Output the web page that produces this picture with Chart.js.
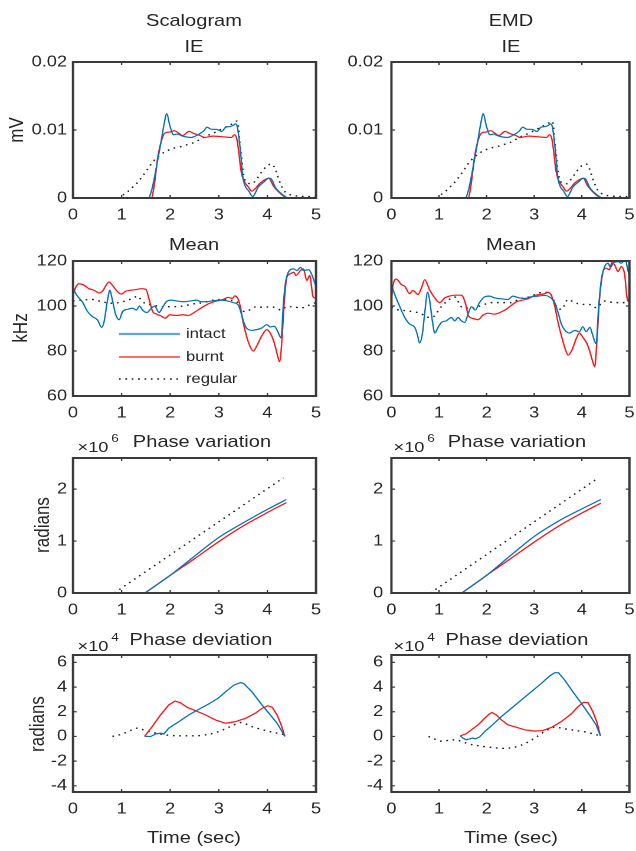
<!DOCTYPE html>
<html>
<head>
<meta charset="utf-8">
<script src="https://cdn.jsdelivr.net/npm/chart.js@4.4.1/dist/chart.umd.min.js"></script>
<style>
body { margin: 0; background: #fff; overflow: hidden; }
#fig { position: relative; height: 851px; transform-origin: 0 0; font-family: "Liberation Sans", Arial, sans-serif; color: #262626; }
#fig canvas { position: absolute; }
.txt { position: absolute; white-space: nowrap; line-height: 1; }
</style>
</head>
<body>
<div id="fig"></div>
<script>
// tick values / labels
const timeTicks = [0, 1, 2, 3, 4, 5];
const ieTicks = [0, 0.01, 0.02];
const ieLabels = ['0', '0.01', '0.02'];
const meanTicks = [60, 80, 100, 120];
const meanLabels = ['60', '80', '100', '120'];
const phvTicks = [0, 1, 2];
const phvLabels = ['0', '1', '2'];
const phdTicks = [-4, -2, 0, 2, 4, 6];
const phdLabels = ['-4', '-2', '0', '2', '4', '6'];

// IE (mV) - same in both columns
const ieIntactT = [0, 1.55, 1.62, 1.71, 1.81, 1.87, 1.93, 1.99, 2.07, 2.14, 2.26, 2.43, 2.57, 2.68, 2.76, 2.85, 2.95, 3.06, 3.14, 3.23, 3.30, 3.34, 3.38, 3.42, 3.46, 3.49, 3.54, 3.61, 3.70, 3.74, 3.81, 3.92, 4.03, 4.09, 4.16, 4.26, 4.37, 4.43, 5];
const ieIntact = [0, 0, 0.0012, 0.0043, 0.0082, 0.0107, 0.0124, 0.0107, 0.0093, 0.0094, 0.0091, 0.0089, 0.0093, 0.0098, 0.0104, 0.0101, 0.0101, 0.0098, 0.0104, 0.0105, 0.0107, 0.0109, 0.0105, 0.0085, 0.0058, 0.0033, 0.0018, 0.0011, 0.0002, 0.0006, 0.0016, 0.0023, 0.0029, 0.0027, 0.0016, 0.0008, 0.0002, 0, 0];
const ieBurntT = [0, 1.61, 1.68, 1.74, 1.81, 1.90, 1.99, 2.09, 2.16, 2.26, 2.39, 2.48, 2.61, 2.71, 2.88, 3.09, 3.26, 3.32, 3.37, 3.41, 3.45, 3.50, 3.61, 3.68, 3.74, 3.85, 3.95, 4.03, 4.12, 4.23, 4.33, 4.43, 5];
const ieBurnt = [0, 0, 0.0023, 0.0058, 0.0082, 0.0096, 0.0097, 0.0099, 0.0096, 0.0092, 0.0098, 0.0095, 0.0092, 0.0089, 0.0091, 0.0090, 0.0089, 0.0093, 0.0087, 0.0068, 0.0043, 0.0028, 0.0016, 0.0010, 0.0013, 0.0022, 0.0027, 0.0029, 0.0018, 0.0009, 0.0003, 0, 0];
const ieRegularT = [0, 0.92, 1.02, 1.12, 1.23, 1.33, 1.43, 1.54, 1.64, 1.74, 1.85, 1.95, 2.06, 2.19, 2.33, 2.47, 2.61, 2.74, 2.88, 3.02, 3.16, 3.30, 3.37, 3.40, 3.43, 3.47, 3.50, 3.57, 3.68, 3.78, 3.88, 3.99, 4.09, 4.16, 4.23, 4.33, 4.43, 4.60, 5];
const ieRegular = [0, 0, 0.0004, 0.0009, 0.0016, 0.0023, 0.0032, 0.0043, 0.0053, 0.0060, 0.0066, 0.0070, 0.0073, 0.0075, 0.0078, 0.0081, 0.0086, 0.0091, 0.0095, 0.0100, 0.0105, 0.0110, 0.0113, 0.0107, 0.0082, 0.0058, 0.0038, 0.0023, 0.0021, 0.0028, 0.0038, 0.0047, 0.0050, 0.0043, 0.0028, 0.0012, 0.0006, 0.0003, 0.0002];

// Mean (kHz) - scalogram
const meanIntactLT = [0, 0.09, 0.19, 0.30, 0.40, 0.50, 0.59, 0.64, 0.71, 0.76, 0.81, 0.88, 0.95, 1.02, 1.12, 1.23, 1.30, 1.37, 1.43, 1.52, 1.61, 1.68, 1.77, 1.85, 1.92, 2.02, 2.12, 2.26, 2.40, 2.54, 2.64, 2.74, 2.88, 3.02, 3.16, 3.30, 3.40, 3.47, 3.52, 3.57, 3.68, 3.78, 3.88, 3.99, 4.06, 4.14, 4.21, 4.28, 4.33, 4.37, 4.43, 4.54, 4.61, 4.68, 4.74, 4.85, 4.92, 5];
const meanIntactL = [107.7, 104.4, 101.9, 97.5, 95.3, 93.9, 90.5, 93.1, 102.6, 107, 102.6, 96.1, 93.9, 97.5, 98.5, 99, 98.2, 100, 98.2, 97.1, 99, 100, 97.1, 99.7, 101.9, 102.6, 102.3, 101.9, 102.2, 102.6, 101.9, 101.9, 102.3, 102.6, 102.3, 101.5, 100.4, 96.1, 92.4, 90.2, 89.2, 89.5, 90.2, 91.7, 90.7, 91, 88.8, 85.8, 101.2, 109.9, 115, 116.5, 115.8, 117.2, 115.8, 116.1, 113.6, 108.5];
const meanBurntLT = [0, 0.06, 0.12, 0.23, 0.33, 0.43, 0.54, 0.61, 0.68, 0.74, 0.81, 0.92, 0.99, 1.09, 1.19, 1.30, 1.40, 1.50, 1.57, 1.64, 1.71, 1.81, 1.90, 1.99, 2.12, 2.26, 2.37, 2.47, 2.57, 2.68, 2.81, 2.95, 3.09, 3.19, 3.28, 3.33, 3.40, 3.45, 3.49, 3.57, 3.64, 3.71, 3.78, 3.88, 3.99, 4.09, 4.16, 4.22, 4.25, 4.30, 4.34, 4.40, 4.47, 4.54, 4.59, 4.68, 4.74, 4.81, 4.87, 4.94, 5];
const meanBurntL = [104.8, 108.5, 109.9, 109.2, 107.7, 107, 105.8, 106.7, 109.2, 110.7, 109.2, 106.3, 105.3, 106.6, 107, 107.3, 107.7, 107.4, 102.6, 97.5, 96.5, 95.6, 94.6, 96.1, 95.8, 96.1, 95.8, 96.8, 98.2, 99.7, 101.2, 102.2, 102.9, 103.8, 103.4, 104.5, 102.9, 99, 93.9, 86.6, 82.2, 80, 82.2, 86.6, 89.5, 86.6, 82.2, 77, 75.2, 85.1, 99.7, 112.8, 114.3, 115, 113.6, 115.8, 116.5, 111.4, 113.6, 104.1, 103.4];
const meanRegularLT = [0, 0.19, 0.40, 0.61, 0.81, 1.02, 1.23, 1.33, 1.43, 1.64, 1.85, 2.06, 2.26, 2.47, 2.68, 2.88, 3.09, 3.23, 3.37, 3.47, 3.57, 3.68, 3.78, 3.92, 4.06, 4.19, 4.28, 4.40, 4.54, 4.68, 4.81, 5];
const meanRegularL = [102.3, 102.6, 102.9, 101.8, 101.2, 101.9, 103.4, 104.4, 101.9, 100.4, 99.7, 99.7, 100, 100.9, 101.5, 102.6, 102.9, 102.6, 101.9, 98.2, 97.5, 99, 99.7, 99.4, 99.7, 99, 98.2, 99.7, 99.7, 99, 100, 101.5];

// Mean (kHz) - EMD
const meanIntactRT = [0, 0.07, 0.17, 0.28, 0.38, 0.49, 0.55, 0.59, 0.65, 0.70, 0.76, 0.80, 0.86, 0.91, 0.98, 1.05, 1.15, 1.26, 1.33, 1.40, 1.47, 1.54, 1.61, 1.68, 1.76, 1.85, 1.96, 2.06, 2.17, 2.31, 2.45, 2.55, 2.69, 2.80, 2.94, 3.08, 3.22, 3.36, 3.43, 3.50, 3.57, 3.65, 3.74, 3.85, 3.95, 4.02, 4.09, 4.17, 4.23, 4.30, 4.35, 4.41, 4.48, 4.55, 4.60, 4.67, 4.76, 4.83, 4.92, 4.95, 5];
const meanIntactR = [109.5, 105.1, 100, 94.9, 92, 90.5, 86.9, 83.6, 87.6, 97.1, 106.1, 102.9, 93.4, 88, 90.5, 92.7, 93.4, 94.9, 93.4, 94.9, 93.4, 92.7, 96.4, 99.7, 98.2, 101.5, 104.1, 104.4, 103.6, 103.2, 102.9, 104.4, 103.6, 103.4, 104.1, 104.4, 104.7, 103.4, 101.5, 97.1, 92, 89.1, 88, 89.1, 88.6, 90.8, 88.6, 90.5, 86.9, 83.2, 98.5, 111.7, 117.5, 119, 117.2, 119.3, 119.7, 119, 121, 117.5, 113.1];
const meanBurntRT = [0, 0.03, 0.10, 0.21, 0.28, 0.38, 0.45, 0.56, 0.63, 0.70, 0.80, 0.91, 1.01, 1.12, 1.22, 1.33, 1.47, 1.55, 1.62, 1.71, 1.82, 1.92, 2.03, 2.17, 2.31, 2.41, 2.52, 2.62, 2.73, 2.87, 3.01, 3.11, 3.22, 3.29, 3.36, 3.43, 3.50, 3.58, 3.65, 3.71, 3.79, 3.88, 3.95, 4.02, 4.11, 4.17, 4.23, 4.27, 4.32, 4.37, 4.44, 4.51, 4.58, 4.63, 4.69, 4.76, 4.83, 4.90, 4.95, 5];
const meanBurntR = [102.9, 108.8, 112, 109.5, 108.8, 105.5, 106.9, 105.1, 108, 111.7, 107.3, 103.6, 101.5, 103.6, 104.4, 104.8, 104.8, 101.5, 95.6, 94.5, 93.9, 95.9, 96.8, 96.4, 97.4, 98.5, 100.3, 101.8, 102.5, 103.2, 104.7, 105.1, 105.5, 106.1, 104.7, 100, 92.7, 86.1, 81, 78.1, 80.3, 85.4, 88, 86.1, 83.2, 79.6, 75.2, 73, 85.4, 102.9, 114.6, 116.8, 116.1, 119.3, 118.2, 115.3, 117.5, 113.9, 103.6, 101.5];
const meanRegularRT = [0, 0.10, 0.35, 0.60, 0.78, 0.90, 1.00, 1.19, 1.33, 1.48, 1.69, 1.90, 2.10, 2.30, 2.50, 2.70, 2.90, 3.10, 3.20, 3.35, 3.46, 3.57, 3.71, 3.85, 4.00, 4.15, 4.30, 4.48, 4.69, 4.90, 5];
const meanRegularR = [99.5, 98.5, 97.8, 96.8, 95, 95.5, 98.5, 102.5, 104, 99.5, 99, 100.3, 101.5, 101.5, 101.5, 103.2, 104.1, 105.8, 106.1, 105.1, 100, 98.5, 102.9, 101.5, 100.7, 100.7, 99.3, 102.2, 101.5, 101.5, 102.2];

// Phase variation (x10^6 radians)
const phvIntactLT = [1.48, 2.0, 2.5, 3.0, 3.5, 4.0, 4.39];
const phvIntactL = [0, 0.34, 0.71, 1.07, 1.35, 1.61, 1.80];
const phvBurntLT = [1.48, 2.0, 2.5, 3.0, 3.5, 4.0, 4.39];
const phvBurntL = [0, 0.34, 0.66, 0.99, 1.29, 1.55, 1.74];
const phvRegularLT = [0.85, 4.33];
const phvRegularL = [0, 2.22];
const phvIntactRT = [1.48, 2.0, 2.5, 3.0, 3.5, 4.0, 4.40];
const phvIntactR = [0, 0.34, 0.72, 1.09, 1.38, 1.62, 1.80];
const phvBurntRT = [1.48, 2.0, 2.5, 3.0, 3.5, 4.0, 4.40];
const phvBurntR = [0, 0.34, 0.66, 0.98, 1.28, 1.54, 1.73];
const phvRegularRT = [0.82, 4.35];
const phvRegularR = [0, 2.22];

// Phase deviation (x10^4 radians)
const phdIntactLT = [1.48, 1.6, 1.7, 1.8, 1.87, 1.97, 2.18, 2.38, 2.59, 2.79, 2.98, 3.14, 3.31, 3.45, 3.51, 3.68, 3.89, 4.06, 4.2, 4.3, 4.36];
const phdIntactL = [0, 0, 0.2, 0.27, 0.2, 0.67, 1.2, 1.74, 2.2, 2.63, 3.08, 3.62, 4.16, 4.37, 4.29, 3.62, 2.55, 1.74, 1.07, 0.4, 0];
const phdBurntLT = [1.47, 1.63, 1.8, 1.97, 2.1, 2.21, 2.35, 2.52, 2.73, 2.93, 3.14, 3.34, 3.55, 3.75, 3.89, 4.01, 4.1, 4.2, 4.29, 4.36];
const phdBurntL = [0, 0.8, 1.74, 2.55, 2.87, 2.73, 2.36, 2.09, 1.74, 1.34, 1.07, 1.2, 1.47, 1.88, 2.28, 2.49, 2.36, 1.74, 0.86, 0];
const phdRegularLT = [0.81, 1.01, 1.18, 1.32, 1.49, 1.7, 1.9, 2.18, 2.45, 2.73, 3.0, 3.27, 3.45, 3.68, 3.96, 4.36];
const phdRegularL = [0, 0.2, 0.48, 0.67, 0.48, 0.27, 0.13, 0.05, 0.05, 0.13, 0.4, 0.86, 1.13, 0.8, 0.48, 0.13];
const phdIntactRT = [1.45, 1.5, 1.57, 1.64, 1.71, 1.76, 1.85, 1.96, 2.1, 2.31, 2.52, 2.73, 2.94, 3.15, 3.32, 3.43, 3.51, 3.64, 3.81, 3.99, 4.16, 4.3, 4.39];
const phdIntactR = [0.05, -0.13, -0.27, -0.2, -0.13, -0.2, -0.05, 0.4, 0.86, 1.61, 2.28, 2.96, 3.63, 4.3, 4.89, 5.16, 5.16, 4.57, 3.63, 2.69, 1.75, 0.94, 0.05];
const phdBurntRT = [1.45, 1.57, 1.68, 1.82, 1.96, 2.06, 2.11, 2.2, 2.31, 2.45, 2.62, 2.8, 3.01, 3.18, 3.36, 3.57, 3.78, 3.92, 4.04, 4.13, 4.23, 4.32, 4.39];
const phdBurntR = [0.05, 0.22, 0.54, 0.94, 1.48, 1.83, 1.94, 1.75, 1.34, 0.94, 0.75, 0.54, 0.43, 0.48, 0.73, 1.21, 1.83, 2.42, 2.77, 2.74, 2.02, 1.13, 0.05];
const phdRegularRT = [0.78, 0.91, 1.08, 1.26, 1.4, 1.61, 1.82, 2.03, 2.24, 2.38, 2.59, 2.8, 3.01, 3.22, 3.43, 3.64, 3.88, 4.13, 4.39];
const phdRegularR = [0, -0.22, -0.4, -0.27, -0.32, -0.59, -0.75, -0.86, -0.94, -0.97, -0.86, -0.59, -0.13, 0.4, 0.75, 0.62, 0.48, 0.32, 0.05];

// figure is laid out narrower and stretched horizontally, like the original export
const SX = 1.18;
const fx = x => x / SX;
const fig = document.getElementById('fig');
fig.style.width = fx(636) + 'px';
fig.style.transform = 'scaleX(' + SX + ')';

Chart.defaults.font.family = '"Liberation Sans", Arial, sans-serif';
Chart.defaults.font.size = 15.5;
Chart.defaults.color = '#262626';

const rows = [{top: 62, bottom: 198}, {top: 261, bottom: 396}, {top: 458, bottom: 593}, {top: 655, bottom: 792}];
const cols = [{left: 0, plotLeft: 73, plotRight: 316, pad: 5},
              {left: 318, plotLeft: 392, plotRight: 630, pad: 7}];
const PAD_TOP = 20, PAD_RIGHT = 14, X_AXIS_H = 30;

const styles = {
    intact: {color: '#0072BD', width: 1.2, dash: []},
    burnt: {color: '#FF1010', width: 1.2, dash: []},
    regular: {color: '#1a1a1a', width: 1.4, dash: [1.4, 4]}
};

function series(kind, t, v, smooth) {
    const s = styles[kind];
    return {
        label: kind,
        data: t.map((x, i) => ({x: x, y: v[i]})),
        borderColor: s.color,
        borderWidth: s.width,
        borderDash: s.dash,
        pointRadius: 0,
        fill: false,
        tension: smooth ? 0.4 : 0,
        cubicInterpolationMode: smooth ? 'monotone' : 'default'
    };
}

// matlab style box with inward ticks
const boxPlugin = {
    id: 'box',
    afterDatasetsDraw(chart) {
        const a = chart.chartArea, ctx = chart.ctx;
        const xs = chart.scales.x, ys = chart.scales.y;
        ctx.save();
        ctx.strokeStyle = '#3a3a3a';
        ctx.lineWidth = 1.2;
        ctx.beginPath();
        xs.ticks.forEach(tk => {
            const px = xs.getPixelForValue(tk.value);
            ctx.moveTo(px, a.bottom); ctx.lineTo(px, a.bottom - 3);
            ctx.moveTo(px, a.top); ctx.lineTo(px, a.top + 3);
        });
        ys.ticks.forEach(tk => {
            const py = ys.getPixelForValue(tk.value);
            ctx.moveTo(a.left, py); ctx.lineTo(a.left + 3, py);
            ctx.moveTo(a.right, py); ctx.lineTo(a.right - 3, py);
        });
        ctx.stroke();
        ctx.lineWidth = 2;
        ctx.strokeRect(a.left, a.top, a.right - a.left, a.bottom - a.top);
        ctx.restore();
    }
};

// legend drawn inside the Mean / Scalogram axes
const legendPlugin = {
    id: 'insideLegend',
    afterDraw(chart) {
        const a = chart.chartArea, ctx = chart.ctx;
        const offs = [73, 96, 118];
        ctx.save();
        ctx.font = '14px "Liberation Sans", Arial, sans-serif';
        ctx.textBaseline = 'middle';
        chart.data.datasets.forEach((ds, i) => {
            const y = a.top + offs[i];
            ctx.beginPath();
            ctx.strokeStyle = i === 0 ? '#5fa6dc' : ds.borderColor;
            ctx.lineWidth = i === 0 ? 2.2 : ds.borderWidth;
            ctx.setLineDash(ds.borderDash);
            ctx.moveTo(a.left + fx(46), y);
            ctx.lineTo(a.left + fx(107), y);
            ctx.stroke();
            ctx.setLineDash([]);
            ctx.fillStyle = '#262626';
            ctx.fillText(ds.label, a.left + fx(113), y);
        });
        ctx.restore();
    }
};

function panel(ci, ri, yMin, yMax, yTicks, yLabels, datasets, extra) {
    const c = cols[ci], r = rows[ri];
    const plotW = fx(c.plotRight - c.left);
    const w = Math.round(plotW + PAD_RIGHT);
    const axisW = fx(c.plotLeft - c.left);
    const padR = w - plotW;
    const cv = document.createElement('canvas');
    cv.width = w;
    cv.height = (r.bottom - r.top) + PAD_TOP + X_AXIS_H;
    cv.style.left = fx(c.left) + 'px';
    cv.style.top = (r.top - PAD_TOP) + 'px';
    fig.appendChild(cv);
    new Chart(cv, {
        type: 'line',
        data: {datasets: datasets},
        options: {
            responsive: false,
            animation: false,
            devicePixelRatio: 2,
            layout: {padding: {top: PAD_TOP, right: padR, left: 0, bottom: 0}},
            plugins: {legend: {display: false}, tooltip: {enabled: false}},
            scales: {
                x: {
                    type: 'linear', min: 0, max: 5,
                    grid: {display: false, drawTicks: false}, border: {display: false},
                    afterBuildTicks: s => { s.ticks = timeTicks.map(v => ({value: v})); },
                    afterFit: s => { s.height = X_AXIS_H; },
                    ticks: {padding: 8, maxRotation: 0, autoSkip: false, callback: v => String(v)}
                },
                y: {
                    min: yMin, max: yMax,
                    grid: {display: false, drawTicks: false}, border: {display: false},
                    afterBuildTicks: s => { s.ticks = yTicks.map(v => ({value: v})); },
                    afterFit: s => { s.width = axisW; },
                    ticks: {padding: c.pad, callback: v => yLabels[yTicks.indexOf(v)]}
                }
            }
        },
        plugins: [boxPlugin].concat(extra || [])
    });
}

// row 1: IE
panel(0, 0, 0, 0.02, ieTicks, ieLabels, [
    series('intact', ieIntactT, ieIntact, true),
    series('burnt', ieBurntT, ieBurnt, true),
    series('regular', ieRegularT, ieRegular, true)]);
panel(1, 0, 0, 0.02, ieTicks, ieLabels, [
    series('intact', ieIntactT, ieIntact, true),
    series('burnt', ieBurntT, ieBurnt, true),
    series('regular', ieRegularT, ieRegular, true)]);
// row 2: Mean
panel(0, 1, 60, 120, meanTicks, meanLabels, [
    series('intact', meanIntactLT, meanIntactL, true),
    series('burnt', meanBurntLT, meanBurntL, true),
    series('regular', meanRegularLT, meanRegularL, true)], [legendPlugin]);
panel(1, 1, 60, 120, meanTicks, meanLabels, [
    series('intact', meanIntactRT, meanIntactR, true),
    series('burnt', meanBurntRT, meanBurntR, true),
    series('regular', meanRegularRT, meanRegularR, true)]);
// row 3: Phase variation
panel(0, 2, 0, 2.6, phvTicks, phvLabels, [
    series('intact', phvIntactLT, phvIntactL, true),
    series('burnt', phvBurntLT, phvBurntL, true),
    series('regular', phvRegularLT, phvRegularL, false)]);
panel(1, 2, 0, 2.6, phvTicks, phvLabels, [
    series('intact', phvIntactRT, phvIntactR, true),
    series('burnt', phvBurntRT, phvBurntR, true),
    series('regular', phvRegularRT, phvRegularR, false)]);
// row 4: Phase deviation
panel(0, 3, -4.5, 6.6, phdTicks, phdLabels, [
    series('intact', phdIntactLT, phdIntactL, false),
    series('burnt', phdBurntLT, phdBurntL, false),
    series('regular', phdRegularLT, phdRegularL, true)]);
panel(1, 3, -4.5, 6.6, phdTicks, phdLabels, [
    series('intact', phdIntactRT, phdIntactR, false),
    series('burnt', phdBurntRT, phdBurntR, false),
    series('regular', phdRegularRT, phdRegularR, true)]);

// titles and labels (x in final picture pixels)
function txt(s, x, y, size, rot) {
    const d = document.createElement('div');
    d.className = 'txt';
    d.textContent = s;
    d.style.left = fx(x) + 'px';
    d.style.top = y + 'px';
    d.style.fontSize = size + 'px';
    d.style.transform = 'translate(-50%,-50%)' + (rot ? ' rotate(-90deg)' : '');
    fig.appendChild(d);
}
txt('Scalogram', 194, 20, 17);
txt('EMD', 511, 20, 17);
txt('IE', 194, 46, 17);
txt('IE', 511, 46, 17);
txt('Mean', 194, 244, 17);
txt('Mean', 511, 244, 17);
txt('Phase variation', 202, 441, 17);
txt('Phase variation', 517, 441, 17);
txt('Phase deviation', 201, 639, 17);
txt('Phase deviation', 517, 639, 17);
txt('\u00d710', 93, 447, 15.5);
txt('6', 115, 439, 11.5);
txt('\u00d710', 409, 447, 15.5);
txt('6', 431, 439, 11.5);
txt('\u00d710', 93, 646, 15.5);
txt('4', 115, 638, 11.5);
txt('\u00d710', 409, 646, 15.5);
txt('4', 431, 638, 11.5);
txt('Time (sec)', 194, 837, 17);
txt('Time (sec)', 511, 837, 17);
txt('mV', 17, 130, 17, true);
txt('kHz', 20, 328, 17, true);
txt('radians', 43, 525, 17, true);
txt('radians', 38, 724, 17, true);
</script>
</body>
</html>
